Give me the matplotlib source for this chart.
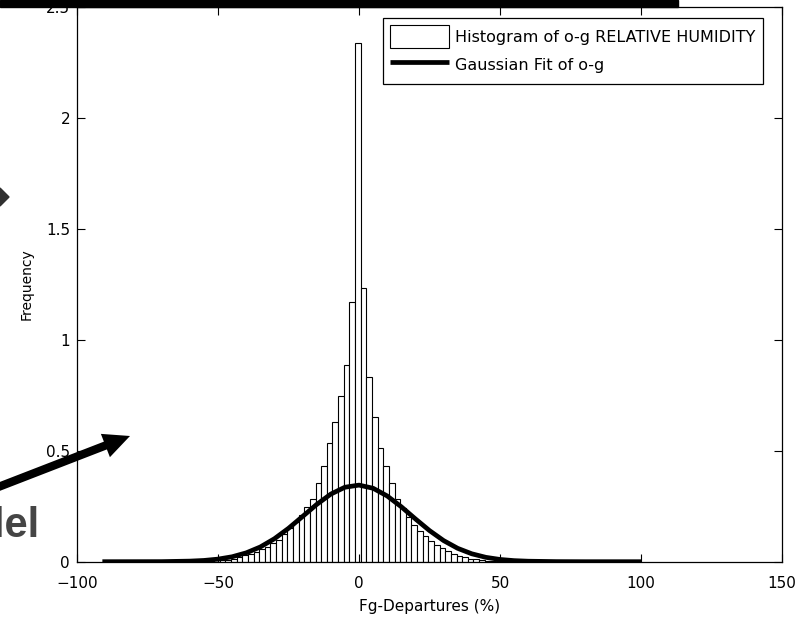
import matplotlib
matplotlib.use("Agg")
import matplotlib.pyplot as plt
from matplotlib.patches import Rectangle, Polygon

# Histogram of o-g relative humidity departures (bin centres, bin width 2 %)
bin_centers = [-56.4, -54.4, -52.4, -50.4, -48.4, -46.4, -44.4, -42.4, -40.4, -38.4,
               -36.4, -34.4, -32.4, -30.4, -28.4, -26.4, -24.4, -22.4, -20.4, -18.4,
               -16.4, -14.4, -12.4, -10.4, -8.4, -6.4, -4.4, -2.4, -0.4, 1.6,
               3.6, 5.6, 7.6, 9.6, 11.6, 13.6, 15.6, 17.6, 19.6, 21.6,
               23.6, 25.6, 27.6, 29.6, 31.6, 33.6, 35.6, 37.6, 39.6, 41.6,
               43.6, 45.6, 47.6, 49.6, 51.6, 53.6, 55.6, 57.6, 59.6]
bin_heights = [0.002, 0.003, 0.004, 0.006, 0.007, 0.009, 0.013, 0.020, 0.028, 0.036,
               0.045, 0.057, 0.068, 0.083, 0.100, 0.125, 0.150, 0.180, 0.210, 0.248,
               0.284, 0.354, 0.430, 0.533, 0.628, 0.745, 0.885, 1.168, 2.336, 1.234,
               0.833, 0.650, 0.511, 0.430, 0.355, 0.283, 0.240, 0.200, 0.165, 0.138,
               0.115, 0.095, 0.075, 0.060, 0.046, 0.035, 0.026, 0.019, 0.014, 0.010,
               0.007, 0.005, 0.004, 0.003, 0.003, 0.002, 0.002, 0.001, 0.001]
bin_width = 2.0

# Gaussian fit of o-g
gauss_x = [-91, -70, -60, -55, -50, -45, -40, -35, -30, -25, -20, -15, -10, -5, 0,
           5, 10, 15, 20, 25, 30, 35, 40, 45, 50, 55, 60, 70, 80, 100]
gauss_y = [0.0, 0.0003, 0.0026, 0.0056, 0.0116, 0.0222, 0.0398, 0.0663, 0.1034, 0.1503,
           0.2038, 0.2579, 0.3045, 0.3354, 0.345, 0.3308, 0.2961, 0.2474, 0.1928, 0.1402,
           0.0951, 0.0602, 0.0356, 0.0196, 0.0101, 0.0048, 0.0022, 0.0004, 0.0, 0.0]

x_ticks = [-100, -50, 0, 50, 100, 150]
y_ticks = [0, 0.5, 1, 1.5, 2, 2.5]
y_ticklabels = ["0", "0.5", "1", "1.5", "2", "2.5"]

W, H = 809, 618
plt.rcParams['font.family'] = ['DejaVu Sans']

fig = plt.figure(figsize=(W / 100, H / 100), dpi=100)
ax = fig.add_axes([77 / W, 1 - 561.7 / H, 705 / W, 555 / H])

bars = ax.bar(bin_centers, bin_heights, width=bin_width, color='white',
              edgecolor='black', linewidth=0.8, label='Histogram of o-g RELATIVE HUMIDITY')
line, = ax.plot(gauss_x, gauss_y, color='black', lw=3.4, solid_joinstyle='round',
                solid_capstyle='butt', label='Gaussian Fit of o-g')

ax.set_xlim(-100, 150)
ax.set_ylim(0, 2.5)
ax.set_xticks(x_ticks)
ax.set_yticks(y_ticks)
ax.set_yticklabels(y_ticklabels)
ax.tick_params(direction='in', length=5.5, width=0.8, top=True, right=True,
               labelsize=11, colors='black')
ax.tick_params(axis='x', pad=10.5)
ax.tick_params(axis='y', pad=5)
for sp in ax.spines.values():
    sp.set_linewidth(0.9)
    sp.set_color('black')

ax.set_xlabel('Fg-Departures (%)', fontsize=11)
ax.xaxis.set_label_coords(0.5, -0.068)
ax.set_ylabel('Frequency', fontsize=10)
ax.yaxis.set_label_coords(-0.061, 0.5)

leg = ax.legend([bars, line], [bars.get_label(), line.get_label()],
                loc='upper right', bbox_to_anchor=(0.973, 0.98), borderaxespad=0,
                fontsize=11.5, handlelength=3.7, handleheight=1.85, labelspacing=0.35,
                handletextpad=0.4, borderpad=0.45, fancybox=False, framealpha=1)
leg.get_frame().set_edgecolor('black')
leg.get_frame().set_linewidth(0.9)

# slide overlays around the chart
fig.add_artist(Rectangle((0, 1 - 7 / H), 678 / W, 7 / H, transform=fig.transFigure,
                         color='black', zorder=10))
ax.annotate('', xy=(130, H - 436), xycoords='figure pixels',
            xytext=(-12, H - 491), textcoords='figure pixels',
            arrowprops=dict(arrowstyle='simple,head_length=0.95,head_width=0.9,tail_width=0.3',
                            mutation_scale=20, lw=0, fc='black', ec='none',
                            shrinkA=0, shrinkB=0))
fig.text(40 / W, 1 - 537 / H, 'Model', fontsize=30, fontweight='bold',
         family='Liberation Sans', color='#454545', ha='right', va='baseline')
fig.add_artist(Polygon([(0, 1 - 188 / H), (9 / W, 1 - 197 / H), (0, 1 - 206 / H)],
                       closed=True, transform=fig.transFigure, color='#303030', zorder=10))

fig.savefig('out.png', dpi=100)
